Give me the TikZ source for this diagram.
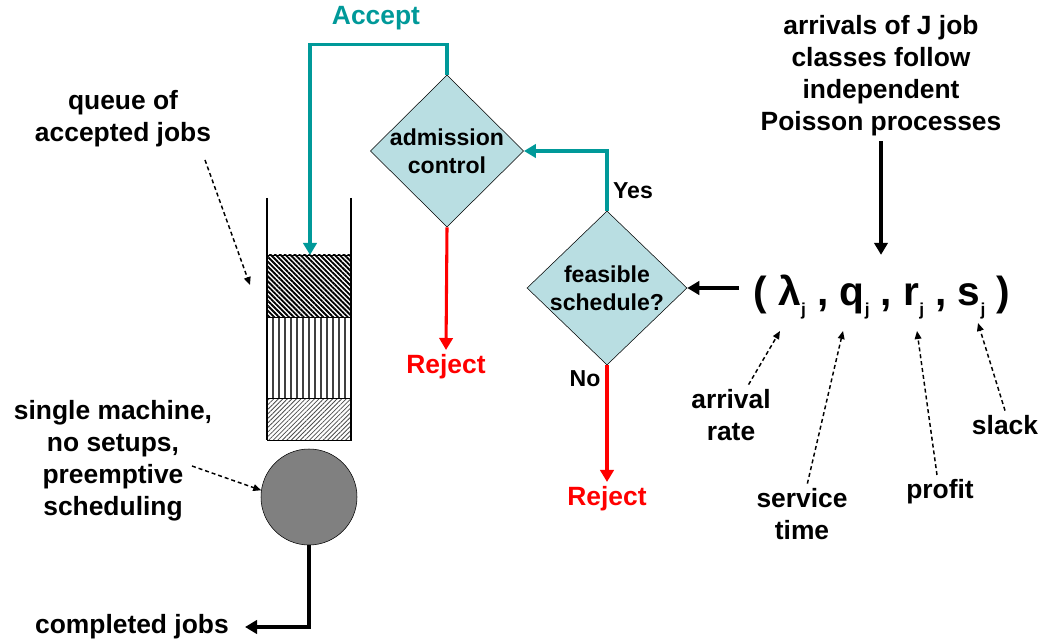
\documentclass[tikz,border=0pt]{standalone}
\usepackage{fontspec}
\setmainfont{Liberation Sans}
\usepackage{tikz}
\usetikzlibrary{shapes.geometric}
\usetikzlibrary{arrows.meta}
\usetikzlibrary{patterns.meta}
\usepackage{xcolor}
\definecolor{acceptteal}{RGB}{0,153,153}
\definecolor{decisionfill}{RGB}{185,222,226}
\definecolor{machinegray}{RGB}{128,128,128}
\newcommand{\subj}{\raisebox{-0.45ex}{\fontsize{13}{13}\selectfont j}}

\begin{document}
\begin{tikzpicture}[x=0.75pt, y=-0.75pt,
        font=\fontsize{19.8}{24}\selectfont\bfseries,
        small/.style={font=\fontsize{17.3}{21}\selectfont\bfseries},
        decision/.style={diamond, draw, thin, fill=decisionfill, aspect=1, inner sep=-6pt, align=center, small},
        tealline/.style={draw=acceptteal, line width=2.3pt, -{Triangle[length=9pt,width=10pt]}},
        redline/.style={draw=red, line width=2.3pt, -{Triangle[length=9pt,width=10pt]}},
        blackline/.style={draw=black, line width=2.5pt, -{Triangle[length=9pt,width=10pt]}},
        pointer/.style={draw=black, line width=1.1pt, dash pattern=on 3pt off 2.2pt, -{Triangle[length=6pt,width=5pt]}}]
        \useasboundingbox (0,0) rectangle (1041,641);

        % queue of accepted jobs
        \fill[pattern={Lines[angle=-45,distance=2.6pt,line width=1.4pt]}] (267,255) rectangle (351,317);
        \foreach \x in {273,279,...,345}
            \draw[black!75, line width=0.9pt] (\x,317) -- (\x,398);
        \fill[pattern={Lines[angle=45,distance=2.4pt,line width=0.6pt]}, pattern color=black!70] (267,398) rectangle (351,440);
        \draw[thin] (267,255) rectangle (351,440);
        \draw[thin] (267,317) -- (351,317);
        \draw[thin] (267,398) -- (351,398);
        \draw[line width=2.2pt] (267,198) -- (267,440);
        \draw[line width=2.2pt] (351,198) -- (351,440);
        \coordinate (qtop) at (310,255);
        \coordinate (qside) at (250,285);

        \node[circle, draw, thin, fill=machinegray, minimum size=72pt, inner sep=0pt] (machine) at (309,497) {};

        % decisions
        \node[decision, minimum width=115pt, minimum height=114pt] (adm) at (447,151) {admission\\control};
        \node[decision, minimum width=120pt, minimum height=115.5pt] (feas) at (607,288) {feasible\\schedule?};

        \node[text=acceptteal] (accept) at (376,18) {Accept};
        \node[small] (yes) at (633,191) {Yes};
        \node[small] (no) at (585,379) {No};
        \node[text=red] (rej1) at (446,367) {Reject};
        \node[text=red] (rej2) at (607,499) {Reject};

        \draw[tealline] (adm.north) -- ++(0,-30) -| (qtop);
        \draw[tealline] (feas.north) |- (adm.east);
        \draw[redline] (adm.south) -- (rej1.north);
        \draw[redline] (feas.south) -- (rej2.north);

        % job classes
        \node[align=center] (arrivals) at (881,76) {arrivals of J job\\classes follow\\independent\\Poisson processes};
        \node[font=\fontsize{30.5}{32}\selectfont\bfseries, inner xsep=11pt, inner ysep=15pt] (tuple) at (882,297) {( λ\subj{} , q\subj{} , r\subj{} , s\subj{} )};
        \draw[blackline] (arrivals.south) -- (arrivals.south |- tuple.north);
        \draw[blackline] (feas.east -| tuple.west) -- (feas.east);

        \coordinate (lamtip) at (780,331);
        \coordinate (qtip) at (843,331);
        \coordinate (rtip) at (917,331);
        \coordinate (stip) at (978,323);
        \node[align=center] (ratelbl) at (731,415) {arrival\\rate};
        \node[align=center] (svclbl) at (802,514) {service\\time};
        \node (profitlbl) at (940,492) {profit};
        \node (slacklbl) at (1005,425) {slack};
        \draw[pointer] (ratelbl.60) -- (lamtip);
        \draw[pointer] (svclbl.80) -- (qtip);
        \draw[pointer] (profitlbl.100) -- (rtip);
        \draw[pointer] (slacklbl.north) -- (stip);

        % left labels
        \node[align=center] (qlbl) at (123,119) {queue of\\accepted jobs};
        \coordinate (qtail) at (205,160);
        \draw[pointer] (qtail) -- (qside);
        \node[align=center] (mlbl) at (113,461) {single machine,\\no setups,\\preemptive\\scheduling};
        \coordinate (mtail) at (192,466);
        \draw[pointer] (mtail) -- (machine.172);

        \node[anchor=east, inner xsep=12pt] (done) at (245,627) {completed jobs};
        \draw[blackline] (machine.south) |- (done.east);
\end{tikzpicture}
\end{document}
